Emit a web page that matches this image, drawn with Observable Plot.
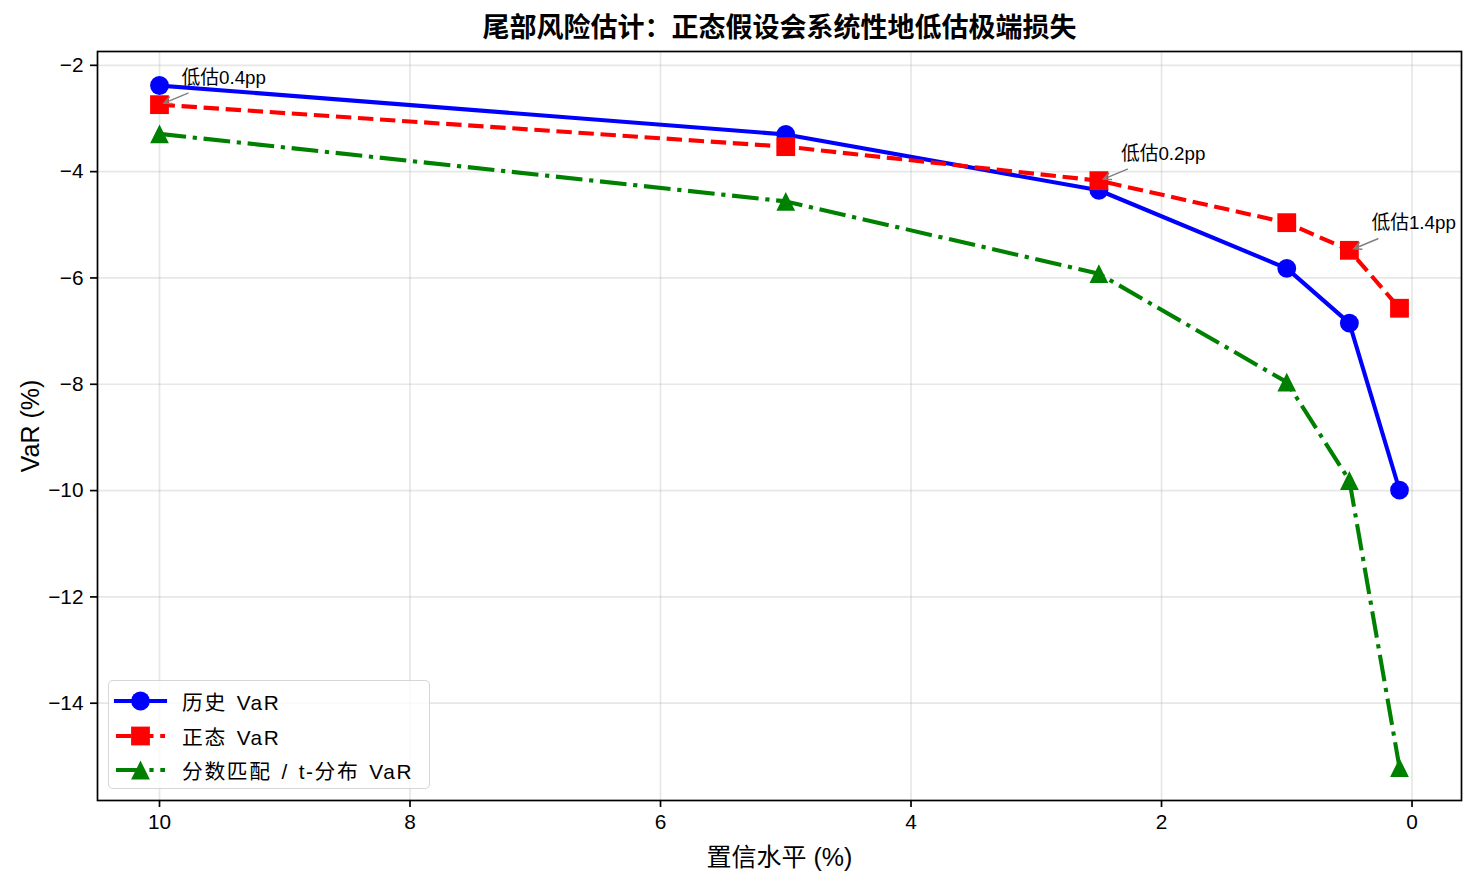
<!DOCTYPE html>
<html><head><meta charset="utf-8">
<script src="https://cdn.jsdelivr.net/npm/d3@7"></script>
<script src="https://cdn.jsdelivr.net/npm/@observablehq/plot@0.6"></script>
<style>
body{margin:0;background:#fff;}
#wrap{position:relative;width:1475px;height:885px;font-family:"Liberation Sans","Noto Sans CJK SC",sans-serif;}
#legend{position:absolute;left:108px;top:680px;width:322px;height:109px;border:1.5px solid rgba(204,204,204,0.8);border-radius:5px;background:rgba(255,255,255,0.8);box-sizing:border-box;}
.row{position:absolute;left:7px;height:34px;display:flex;align-items:center;font-size:20.8px;color:#000;white-space:pre;letter-spacing:1.6px;word-spacing:2.5px;}
.row svg{margin-right:17px;overflow:visible;}
</style></head>
<body><div id="wrap"><div id="legend"></div></div>
<script>
const titleText = "尾部风险估计：正态假设会系统性地低估极端损失";
const xLabel = "置信水平 (%)";
const yLabel = "VaR (%)";
const confLevels = [10, 5, 2.5, 1, 0.5, 0.1];
const histVaR = [-2.38, -3.30, -4.35, -5.82, -6.85, -9.99];
const normVaR = [-2.74, -3.53, -4.17, -4.96, -5.48, -6.57];
const tVaR = [-3.29, -4.56, -5.92, -7.96, -9.81, -15.21];
const seriesNames = ["历史 VaR", "正态 VaR", "分数匹配 / t-分布 VaR"];
const seriesColors = ["blue", "red", "green"];
const annotX = [10, 2.5, 0.5];
const annotText = ["低估0.4pp", "低估0.2pp", "低估1.4pp"];
const xTicks = [10, 8, 6, 4, 2, 0];
const yTicks = [-2, -4, -6, -8, -10, -12, -14];

const fmt = d => d < 0 ? "\u2212" + Math.abs(d) : String(d);
const mplSquare = {draw(ctx, size){const r = Math.sqrt(size/Math.PI); ctx.rect(-r,-r,2*r,2*r);}};
const mplTriangle = {draw(ctx, size){const r = Math.sqrt(size/Math.PI); ctx.moveTo(0,-r); ctx.lineTo(r,r); ctx.lineTo(-r,r); ctx.closePath();}};
const seriesValues = [histVaR, normVaR, tVaR];
const seriesSymbols = ["circle", mplSquare, mplTriangle];
const seriesDash = [null, "15.4,6.7", "26.7,6.7,4.2,6.7"];
const seriesCap = ["square", "butt", "butt"];
const R = 9.4, LW = 4.1;

const seriesMarks = seriesValues.flatMap((vals, s) => {
  const rows = confLevels.map((c, i) => ({c, v: vals[i]}));
  return [
    Plot.line(rows, {x: "c", y: "v", stroke: seriesColors[s], strokeWidth: LW,
      strokeDasharray: seriesDash[s] || undefined, strokeLinecap: seriesCap[s], strokeLinejoin: "round"}),
    Plot.dot(rows, {x: "c", y: "v", r: R, symbol: seriesSymbols[s], fill: seriesColors[s], stroke: "none"})
  ];
});

const annotRows = annotX.map((x, i) => ({x, y: normVaR[confLevels.indexOf(x)], t: annotText[i]}));

const plot = Plot.plot({
  width: 1475, height: 885,
  marginLeft: 97, marginRight: 14, marginTop: 51, marginBottom: 85,
  style: {fontFamily: '"Liberation Sans","Noto Sans CJK SC",sans-serif', fontSize: "20.8px", color: "#000", background: "#fff"},
  x: {domain: [10.495, -0.395]},
  y: {domain: [-15.83, -1.74]},
  marks: [
    Plot.gridX(xTicks, {stroke: "#b0b0b0", strokeOpacity: 0.3, strokeWidth: 1.7}),
    Plot.gridY(yTicks, {stroke: "#b0b0b0", strokeOpacity: 0.3, strokeWidth: 1.7}),
    Plot.axisX(xTicks, {tickSize: 7, tickPadding: 7, tickFormat: fmt, label: null, fontSize: 20.8, strokeWidth: 1.7}),
    Plot.axisY(yTicks, {tickSize: 7, tickPadding: 7, tickFormat: fmt, label: null, fontSize: 20.8, strokeWidth: 1.7}),
    ...seriesMarks,
    Plot.text(annotRows, {x: "x", y: "y", text: "t", dx: 22, dy: -21, textAnchor: "start", lineAnchor: "bottom", fontSize: 18.75, fill: "#000"}),
    Plot.frame({stroke: "black", strokeWidth: 1.7}),
    Plot.text([titleText], {frameAnchor: "top", dy: -23, lineAnchor: "middle", textAnchor: "middle", fontSize: 27, fontWeight: "bold", fill: "#000"}),
    Plot.text([xLabel], {frameAnchor: "bottom", dy: 57, lineAnchor: "middle", textAnchor: "middle", fontSize: 25, fill: "#000"}),
    Plot.text([yLabel], {frameAnchor: "left", dx: -67, rotate: -90, lineAnchor: "middle", textAnchor: "middle", fontSize: 25, fill: "#000"})
  ]
});

// annotation arrows, positioned via the plot's own scales
const sx = plot.scale("x"), sy = plot.scale("y");
const g = d3.select(plot).append("g").attr("stroke", "gray").attr("stroke-width", 1.5).attr("fill", "none").attr("stroke-linecap", "round");
annotRows.forEach(d => {
  const px = sx.apply(d.x), py = sy.apply(d.y);
  const tx = px + 29, ty = py - 11, hx = px + 5, hy = py - 1;
  const a = Math.atan2(hy - ty, hx - tx), L = 8, w = 0.45;
  g.append("path").attr("d",
    `M${tx},${ty}L${hx},${hy}M${hx - L*Math.cos(a - w)},${hy - L*Math.sin(a - w)}L${hx},${hy}L${hx - L*Math.cos(a + w)},${hy - L*Math.sin(a + w)}`);
});

document.getElementById("wrap").prepend(plot);
plot.style.position = "absolute"; plot.style.left = "0"; plot.style.top = "0";

// legend
const legend = document.getElementById("legend");
seriesNames.forEach((name, s) => {
  const row = document.createElement("div");
  row.className = "row";
  row.style.top = (3 + s * 34.5) + "px";
  const svg = d3.create("svg").attr("width", 49).attr("height", 20);
  svg.append("line").attr("x1", 0).attr("x2", 49).attr("y1", 10).attr("y2", 10)
    .attr("stroke", seriesColors[s]).attr("stroke-width", LW)
    .attr("stroke-dasharray", seriesDash[s]).attr("stroke-linecap", seriesCap[s]);
  const sym = typeof seriesSymbols[s] === "string" ? d3.symbolCircle : seriesSymbols[s];
  svg.append("path").attr("transform", "translate(24.5,10)")
    .attr("d", d3.symbol(sym, Math.PI * R * R)()).attr("fill", seriesColors[s]);
  row.appendChild(svg.node());
  row.appendChild(document.createTextNode(name));
  legend.appendChild(row);
});
</script>
</body></html>
